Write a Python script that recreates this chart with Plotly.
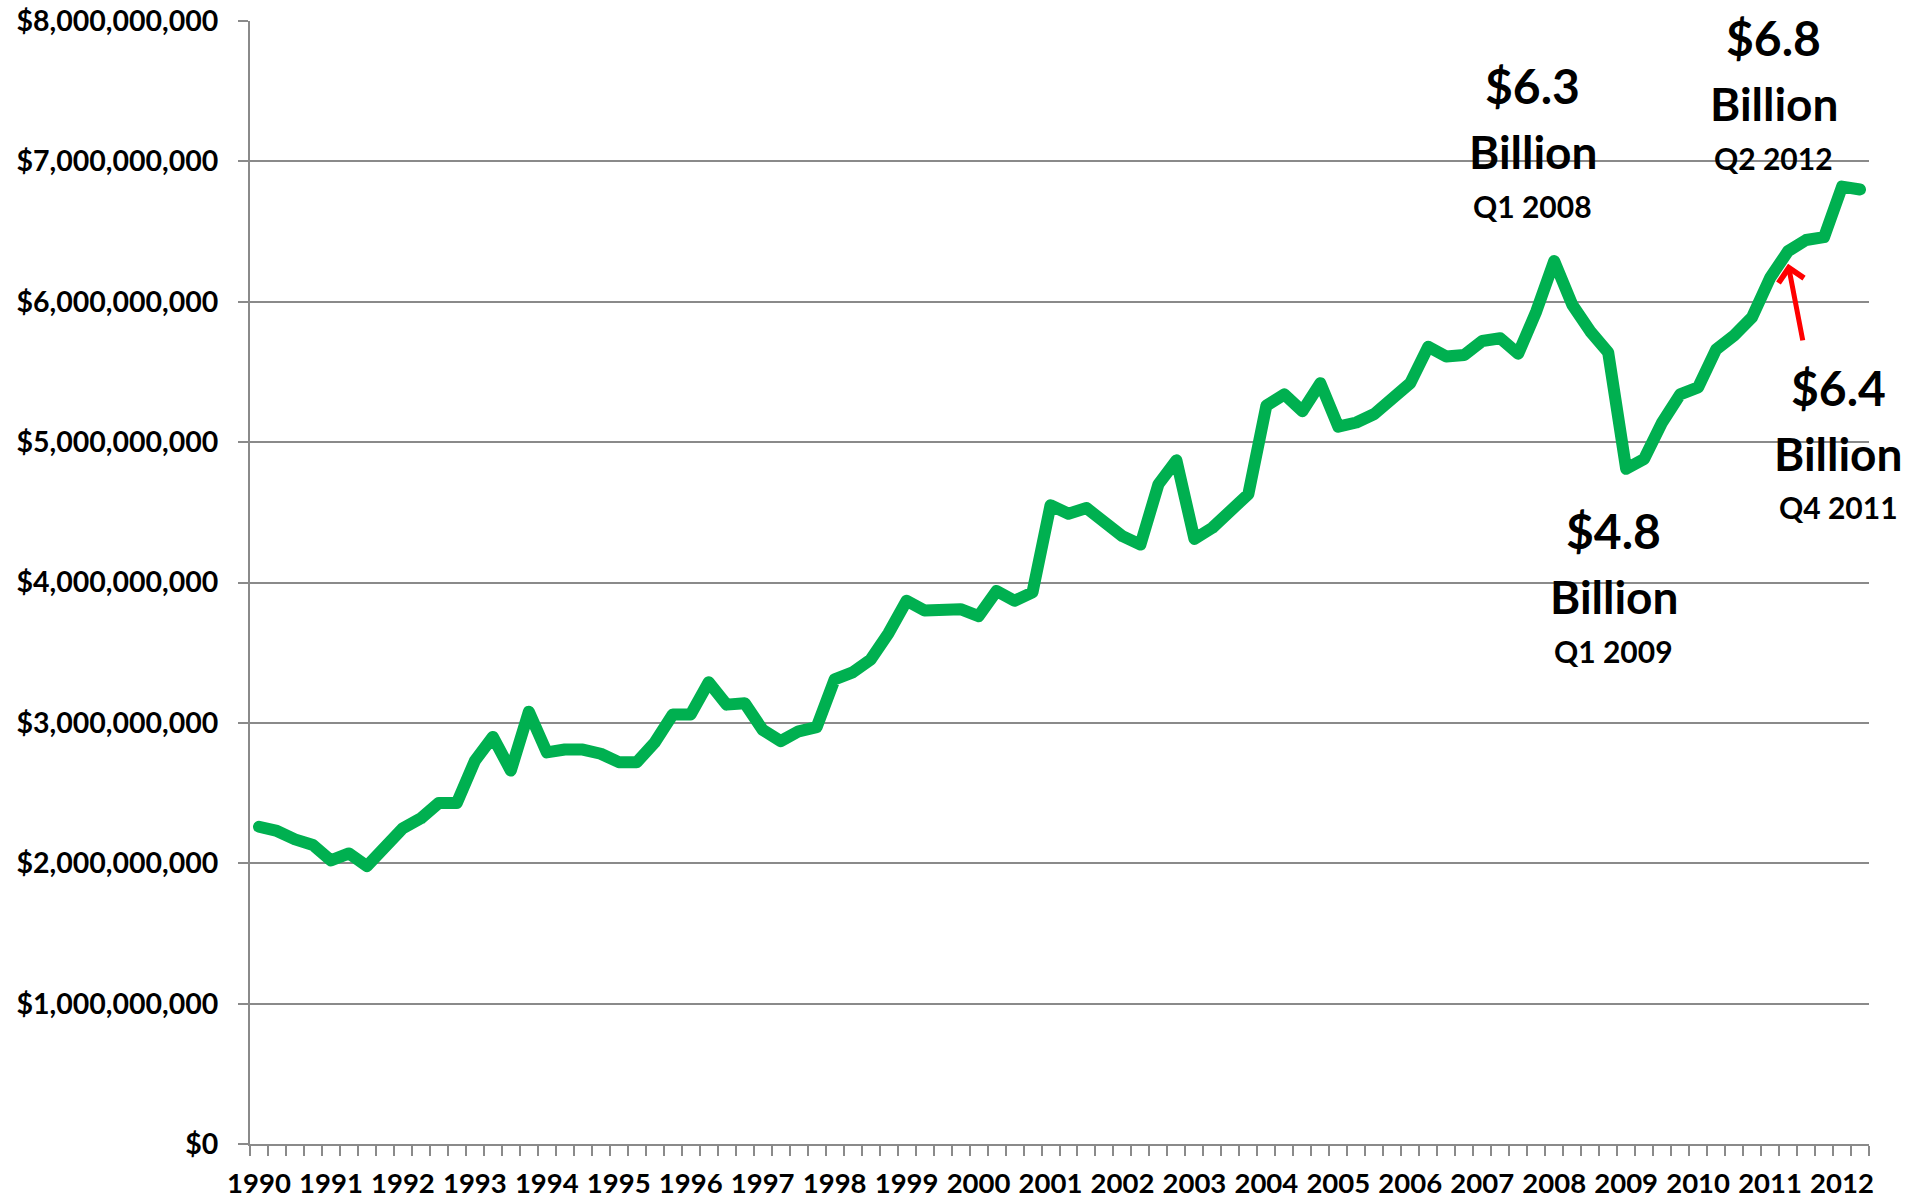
import plotly.graph_objects as go

# ---- data (quarterly, Q1 1990 .. Q2 2012), billions of dollars ----
years = [str(y) for y in range(1990, 2013)]
quarter_index = list(range(90))
values_billion = [
    2.26, 2.23, 2.17, 2.13, 2.02, 2.07, 1.98, 2.13,
    2.25, 2.32, 2.43, 2.43, 2.73, 2.90, 2.66, 3.08,
    2.79, 2.81, 2.81, 2.78, 2.72, 2.72, 2.86, 3.06,
    3.06, 3.29, 3.13, 3.14, 2.95, 2.87, 2.94, 2.97,
    3.31, 3.36, 3.45, 3.64, 3.87, 3.80, 3.80, 3.81,
    3.76, 3.94, 3.87, 3.93, 4.55, 4.49, 4.53, 4.43,
    4.33, 4.27, 4.70, 4.87, 4.31, 4.39, 4.50, 4.63,
    5.26, 5.34, 5.22, 5.42, 5.11, 5.14, 5.20, 5.30,
    5.42, 5.68, 5.61, 5.62, 5.72, 5.74, 5.63, 5.93,
    6.29, 5.98, 5.79, 5.64, 4.81, 4.88, 5.14, 5.34,
    5.39, 5.66, 5.76, 5.89, 6.17, 6.36, 6.44, 6.46,
    6.82, 6.80,
]
values = [v * 1e9 for v in values_billion]

# callout labels
callout_amounts = ["$6.3", "$6.8", "$4.8", "$6.4"]
callout_quarters = ["Q1 2008", "Q2 2012", "Q1 2009", "Q4 2011"]
callout_x = [70.8, 84.2, 75.3, 87.8]          # label centre (quarter index)
callout_y = [7.07e9, 7.41e9, 3.90e9, 4.92e9]  # 'Billion' line centre

GREEN = "#00B050"
GRAY = "#8a8a8a"
FONT = "Lato"

fig = go.Figure()
fig.add_trace(go.Scatter(
    x=quarter_index, y=values, mode="lines",
    line=dict(color=GREEN, width=12),
    hoverinfo="skip", showlegend=False,
))

annotations = []
for amt, q, cx, cy in zip(callout_amounts, callout_quarters, callout_x, callout_y):
    annotations.append(dict(x=cx, y=cy, xref="x", yref="y", text=amt, showarrow=False,
                            yshift=66, font=dict(family=FONT, size=48, color="black", weight="bold")))
    annotations.append(dict(x=cx, y=cy, xref="x", yref="y", text="Billion", showarrow=False,
                            font=dict(family=FONT, size=46, color="black", weight="bold")))
    annotations.append(dict(x=cx, y=cy, xref="x", yref="y", text=q, showarrow=False,
                            yshift=-54, font=dict(family=FONT, size=30, color="black", weight="bold")))

# red arrow pointing at the Q4 2011 area of the line
annotations.append(dict(
    x=quarter_index[85], y=values[85] - 0.09e9, xref="x", yref="y",
    ax=15, ay=78, axref="pixel", ayref="pixel",
    text="", showarrow=True, arrowhead=4, arrowsize=1.0, arrowwidth=5,
    arrowcolor="#FF0000", standoff=0,
))

fig.update_layout(
    width=1915, height=1199,
    margin=dict(l=250, r=46, t=21, b=55, autoexpand=False),
    paper_bgcolor="white", plot_bgcolor="white",
    showlegend=False,
    annotations=annotations,
    xaxis=dict(
        range=[-0.5, 89.5],
        tickmode="array",
        tickvals=quarter_index[::4],
        ticktext=years,
        ticks="outside", ticklen=14, tickcolor="rgba(0,0,0,0)",
        tickfont=dict(family=FONT, size=27.5, color="black", weight="bold"),
        showgrid=False, zeroline=False, automargin=False,
        showline=True, linecolor=GRAY, linewidth=2,
        minor=dict(tickmode="linear", tick0=-0.5, dtick=1, ticks="outside",
                   ticklen=10, tickcolor=GRAY, tickwidth=2, showgrid=False),
    ),
    yaxis=dict(
        range=[0, 8e9], tickmode="linear", tick0=0, dtick=1e9,
        tickformat="$,.0f",
        ticks="outside", ticklen=10, tickcolor=GRAY, tickwidth=2,
        ticklabelstandoff=14,
        tickfont=dict(family=FONT, size=28.5, color="black", weight="bold"),
        showgrid=True, gridcolor=GRAY, gridwidth=1.5, automargin=False,
        zeroline=False, showline=True, linecolor=GRAY, linewidth=2,
    ),
)

post = """
document.body.style.margin='0';
document.body.style.overflow='hidden';
document.querySelectorAll('.scatterlayer path.js-line').forEach(function(p){
  p.style.strokeLinejoin='round'; p.style.strokeLinecap='round';
});
"""
fig.write_html("out.html", post_script=post, config={"displayModeBar": False})
